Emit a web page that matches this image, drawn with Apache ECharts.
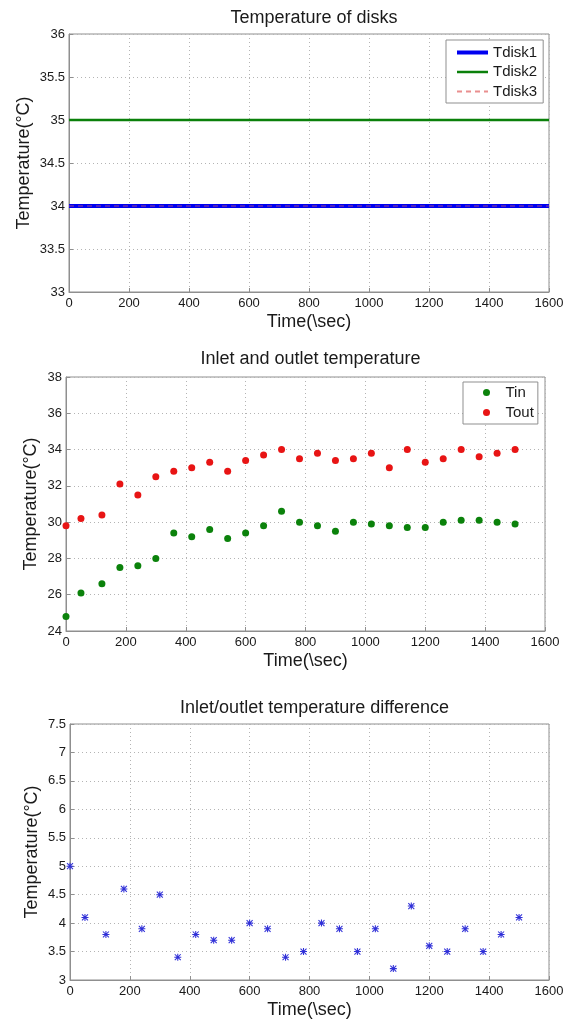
<!DOCTYPE html>
<html>
<head>
<meta charset="utf-8">
<script src="https://cdn.jsdelivr.net/npm/echarts@6/dist/echarts.min.js"></script>
<style>
  html, body { margin: 0; padding: 0; background: #fff; }
  #chart { width: 568px; height: 1020px; }
</style>
</head>
<body>
<div id="chart"></div>
<script>
// Disk temperatures (constant over the run)
const diskTime = [0, 1600];
const tdisk1 = [34, 34];
const tdisk2 = [35, 35];
const tdisk3 = [34, 34];

// Sampling times (s)
const sampleTime = [0, 50, 120, 180, 240, 300, 360, 420, 480, 540, 600, 660, 720,
  780, 840, 900, 960, 1020, 1080, 1140, 1200, 1260, 1320, 1380, 1440, 1500];

// Inlet / outlet air temperature (°C)
const tin = [24.8, 26.1, 26.6, 27.5, 27.6, 28.0, 29.4, 29.2, 29.6, 29.1, 29.4, 29.8, 30.6,
  30.0, 29.8, 29.5, 30.0, 29.9, 29.8, 29.7, 29.7, 30.0, 30.1, 30.1, 30.0, 29.9];
const tout = [29.8, 30.2, 30.4, 32.1, 31.5, 32.5, 32.8, 33.0, 33.3, 32.8, 33.4, 33.7, 34.0,
  33.5, 33.8, 33.4, 33.5, 33.8, 33.0, 34.0, 33.3, 33.5, 34.0, 33.6, 33.8, 34.0];

// Outlet minus inlet (°C)
const tdiff = [5.0, 4.1, 3.8, 4.6, 3.9, 4.5, 3.4, 3.8, 3.7, 3.7, 4.0, 3.9, 3.4,
  3.5, 4.0, 3.9, 3.5, 3.9, 3.2, 4.3, 3.6, 3.5, 3.9, 3.5, 3.8, 4.1];

// Axis ranges and titles
const titles = ['Temperature of disks', 'Inlet and outlet temperature', 'Inlet/outlet temperature difference'];
const xName = 'Time(\\sec)';
const yName = 'Temperature(°C)';
const yRanges = [[33, 36, 0.5], [24, 38, 2], [3, 7.5, 0.5]];

const FONT = '"Liberation Sans", Arial, Helvetica, sans-serif';
const TEXT = '#1a1a1a';
const FRAME = '#8f8f8f';

const BLUE = '#0000f0';
const GREEN = '#0a800a';
const PINK = '#e06060';

const grids = [
  { left: 69, top: 34, width: 480, height: 258, nameGapY: 36, titleTop: 4 },
  { left: 66, top: 377, width: 479, height: 254, nameGapY: 26, titleTop: 345 },
  { left: 70, top: 724, width: 479, height: 258, nameGapY: 29, titleTop: 694 }
];

const zip = (xs, ys) => xs.map((x, i) => [x, ys[i]]);

// Eight-armed asterisk marker
const STAR = 'path://M8.5 0L11.5 0L11.5 20L8.5 20Z M0 8.5L20 8.5L20 11.5L0 11.5Z ' +
  'M2.5 0.4L19.6 17.5L17.5 19.6L0.4 2.5Z M17.5 0.4L19.6 2.5L2.5 19.6L0.4 17.5Z';

const xAxes = grids.map((g, i) => ({
  type: 'value', gridIndex: i, min: 0, max: 1600, interval: 200,
  name: xName, nameLocation: 'middle', nameGap: 21, nameMoveOverlap: false,
  nameTextStyle: { fontFamily: FONT, fontSize: 18, color: TEXT },
  axisLine: { show: true, lineStyle: { color: FRAME, width: 1 } },
  axisTick: { show: true, inside: true, length: 4, lineStyle: { color: FRAME } },
  axisLabel: { fontFamily: FONT, fontSize: 13, color: TEXT, margin: 5, formatter: v => String(v) },
  splitLine: { show: true, lineStyle: { color: '#b4b4b4', type: [1, 3], width: 1 } }
}));

const yAxes = grids.map((g, i) => ({
  type: 'value', gridIndex: i, min: yRanges[i][0], max: yRanges[i][1], interval: yRanges[i][2],
  name: yName, nameLocation: 'middle', nameGap: g.nameGapY, nameMoveOverlap: false,
  nameTextStyle: { fontFamily: FONT, fontSize: 18, color: TEXT },
  axisLine: { show: true, lineStyle: { color: FRAME, width: 1 } },
  axisTick: { show: true, inside: true, length: 4, lineStyle: { color: FRAME } },
  axisLabel: { fontFamily: FONT, fontSize: 13, color: TEXT, margin: 4 },
  splitLine: { show: true, lineStyle: { color: '#b4b4b4', type: [1, 3], width: 1 } }
}));

const option = {
  backgroundColor: '#fff',
  animation: false,
  title: titles.map((t, i) => ({
    text: t,
    left: grids[i].left + grids[i].width / 2,
    top: grids[i].titleTop,
    textAlign: 'center',
    textStyle: { fontFamily: FONT, fontSize: 18, fontWeight: 'normal', color: TEXT }
  })),
  grid: grids.map(g => ({
    left: g.left, top: g.top, width: g.width, height: g.height,
    show: true, borderColor: FRAME, borderWidth: 1, backgroundColor: '#fff'
  })),
  xAxis: xAxes,
  yAxis: yAxes,
  legend: [
    {
      data: [
        { name: 'Tdisk1', lineStyle: { color: BLUE, width: 4 } },
        { name: 'Tdisk2', lineStyle: { color: GREEN, width: 2.5 } },
        'Tdisk3'
      ],
      orient: 'vertical', left: 446, top: 40,
      itemWidth: 31, itemHeight: 14, itemGap: 4.5,
      padding: [5, 6, 4, 9],
      itemStyle: { opacity: 0 },
      borderColor: FRAME, borderWidth: 1, backgroundColor: '#fff',
      textStyle: { fontFamily: FONT, fontSize: 15, color: TEXT }
    },
    {
      data: ['Tin', 'Tout'],
      orient: 'vertical', left: 463, top: 382,
      itemWidth: 28, itemHeight: 7, itemGap: 5,
      padding: [3, 4, 4, 20],
      borderColor: FRAME, borderWidth: 1, backgroundColor: '#fff',
      textStyle: { fontFamily: FONT, fontSize: 15, color: TEXT, lineHeight: 14 }
    }
  ],
  series: [
    {
      name: 'Tdisk1', type: 'line', xAxisIndex: 0, yAxisIndex: 0,
      data: zip(diskTime, tdisk1), symbol: 'none', showSymbol: false,
      lineStyle: { color: BLUE, width: 4 }, itemStyle: { color: BLUE }
    },
    {
      name: 'Tdisk2', type: 'line', xAxisIndex: 0, yAxisIndex: 0,
      data: zip(diskTime, tdisk2), symbol: 'none', showSymbol: false,
      lineStyle: { color: GREEN, width: 2.5 }, itemStyle: { color: GREEN }
    },
    {
      name: 'Tdisk3', type: 'line', xAxisIndex: 0, yAxisIndex: 0,
      data: zip(diskTime, tdisk3), symbol: 'none', showSymbol: false,
      lineStyle: { color: PINK, width: 1, type: [5, 4], opacity: 0.7 }, itemStyle: { color: PINK }
    },
    {
      name: 'Tin', type: 'scatter', xAxisIndex: 1, yAxisIndex: 1,
      data: zip(sampleTime, tin), symbol: 'circle', symbolSize: 7,
      itemStyle: { color: '#0b820b', opacity: 1 }
    },
    {
      name: 'Tout', type: 'scatter', xAxisIndex: 1, yAxisIndex: 1,
      data: zip(sampleTime, tout), symbol: 'circle', symbolSize: 7,
      itemStyle: { color: '#e81414', opacity: 1 }
    },
    {
      name: 'dT', type: 'scatter', xAxisIndex: 2, yAxisIndex: 2,
      data: zip(sampleTime, tdiff), symbol: STAR, symbolSize: 7,
      itemStyle: { color: '#3030d8', opacity: 1 }
    }
  ]
};

const chart = echarts.init(document.getElementById('chart'), null, { renderer: 'canvas' });
chart.setOption(option);
</script>
</body>
</html>
